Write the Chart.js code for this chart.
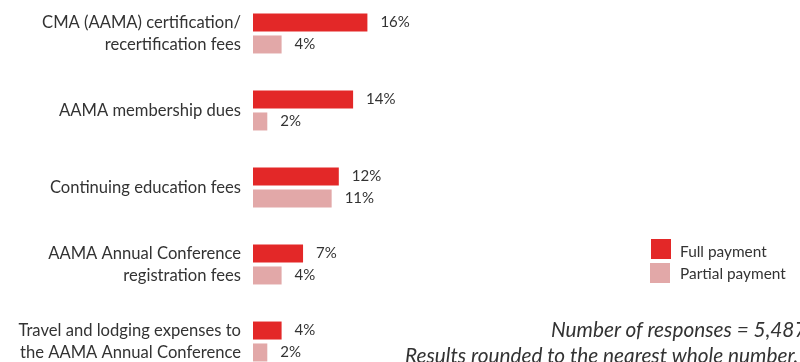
<!DOCTYPE html>
<html>
<head>
<meta charset="utf-8">
<script src="https://cdn.jsdelivr.net/npm/chart.js@4"></script>
<style>
  html, body { margin:0; padding:0; background:#fff; }
  #wrap { position:relative; width:800px; height:362px; overflow:hidden; font-family: Lato, "Open Sans", sans-serif; color:#333; }
  #cbox { position:absolute; left:0; top:-5px; width:800px; height:390px; }
  .leg { position:absolute; font-size:15.4px; color:#333; white-space:nowrap; line-height:18px; }
  .sw { position:absolute; width:20px; height:20px; }
  .note { position:absolute; font-size:20.8px; font-style:italic; color:#333; white-space:nowrap; line-height:24px; }
</style>
</head>
<body>
<div id="wrap">
  <div id="cbox"><canvas id="c"></canvas></div>
  <div class="sw" style="left:651px;top:239px;background:#E32828;"></div>
  <div class="leg" style="left:680px;top:242px;" id="l1"></div>
  <div class="sw" style="left:650px;top:263px;background:#E2A8A8;"></div>
  <div class="leg" style="left:680px;top:264px;" id="l2"></div>
  <div class="note" style="left:551px;top:317px;" id="n1"></div>
  <div class="note" style="left:405px;top:343px;" id="n2"></div>
</div>
<script>
const categories = [
  ["CMA (AAMA) certification/", "recertification fees"],
  "AAMA membership dues",
  "Continuing education fees",
  ["AAMA Annual Conference", "registration fees"],
  ["Travel and lodging expenses to", "the AAMA Annual Conference"]
];
const seriesNames = ["Full payment", "Partial payment"];
const fullPayment = [16, 14, 12, 7, 4];
const partialPayment = [4, 2, 11, 4, 2];
const notes = ["Number of responses = 5,487", "Results rounded to the nearest whole number."];

document.getElementById('l1').textContent = seriesNames[0];
document.getElementById('l2').textContent = seriesNames[1];
document.getElementById('n1').textContent = notes[0];
document.getElementById('n2').textContent = notes[1];

const valueLabels = {
  id: 'valueLabels',
  afterDatasetsDraw(chart) {
    const ctx = chart.ctx;
    ctx.save();
    ctx.font = '15px Lato, "Open Sans", sans-serif';
    ctx.fillStyle = '#333';
    ctx.textBaseline = 'middle';
    ctx.textAlign = 'left';
    chart.data.datasets.forEach((ds, di) => {
      const meta = chart.getDatasetMeta(di);
      meta.data.forEach((bar, i) => {
        ctx.fillText(ds.data[i] + '%', bar.x + 13, bar.y);
      });
    });
    ctx.restore();
  }
};

new Chart(document.getElementById('c'), {
  type: 'bar',
  data: {
    labels: categories,
    datasets: [
      { label: seriesNames[0], data: fullPayment, backgroundColor: '#E32828', categoryPercentage: 0.57, barPercentage: 0.82 },
      { label: seriesNames[1], data: partialPayment, backgroundColor: '#E2A8A8', categoryPercentage: 0.57, barPercentage: 0.82 }
    ]
  },
  options: {
    indexAxis: 'y',
    responsive: true,
    maintainAspectRatio: false,
    animation: false,
    layout: { padding: { top: 0, left: 0, right: 0, bottom: 5 } },
    plugins: { legend: { display: false }, tooltip: { enabled: false } },
    scales: {
      x: { display: false, min: 0, max: 76.5 },
      y: {
        grid: { display: false, drawTicks: false },
        border: { display: false },
        ticks: {
          padding: 12,
          color: '#333',
          font: { family: 'Lato, "Open Sans", sans-serif', size: 16.6, lineHeight: 1.33 }
        },
        afterFit(scale) {
          scale.width = 253;
          scale.paddingTop = 0;
          scale.paddingBottom = 0;
        }
      }
    }
  },
  plugins: [valueLabels]
});
</script>
</body>
</html>
